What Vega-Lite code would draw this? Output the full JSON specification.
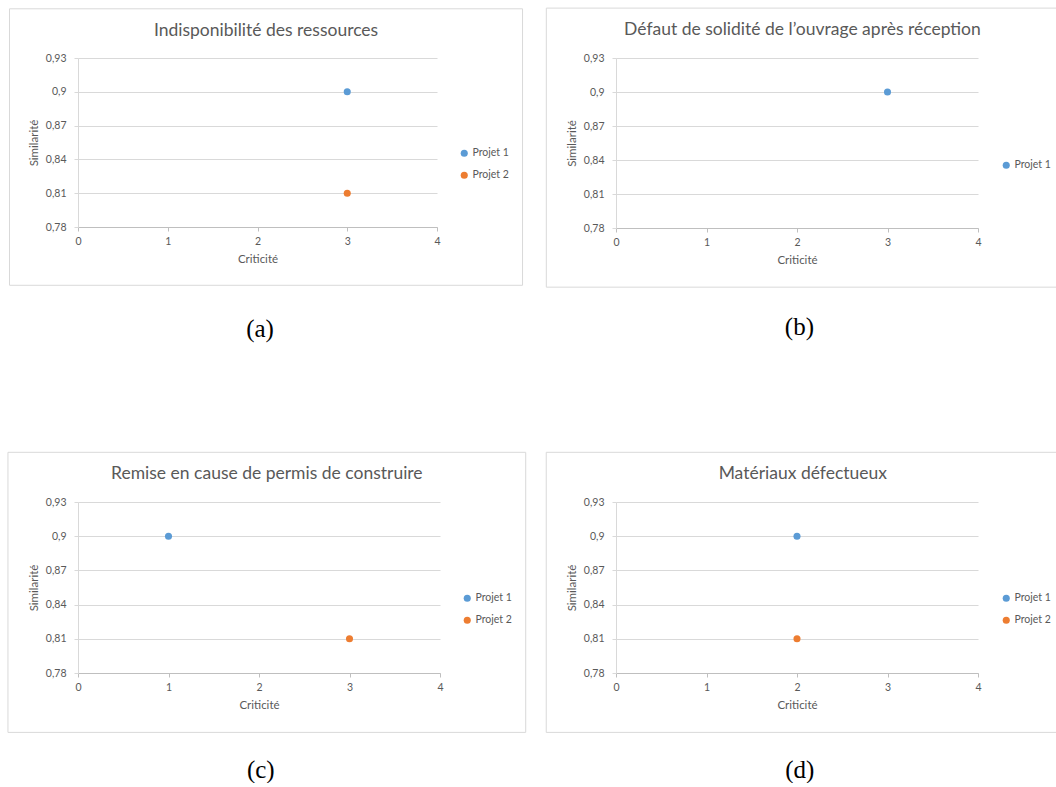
{
  "$schema": "https://vega.github.io/schema/vega-lite/v6.json",
  "background": "white",
  "padding": {"left": 7, "top": 7, "right": 0, "bottom": 0},
  "config": {
    "font": "Lato",
    "view": {"stroke": null},
    "axis": {
      "labelFont": "Lato", "labelFontSize": 10.5, "labelColor": "#595959",
      "titleFont": "Lato", "titleFontSize": 11.5, "titleFontWeight": "normal", "titleColor": "#595959",
      "domainColor": "#d9d9d9", "tickColor": "#d9d9d9", "gridColor": "#d9d9d9", "tickSize": 4,
      "labelOverlap": false, "tickCount": 10
    },
    "axisX": {"grid": false, "labelPadding": 5, "titlePadding": 7, "domainColor": "#bfbfbf", "tickColor": "#bfbfbf", "labelFlush": false},
    "axisY": {"grid": true, "labelPadding": 8, "titlePadding": 6, "labelFlush": false},
    "legend": {
      "labelFont": "Lato", "labelFontSize": 10.5, "labelColor": "#595959",
      "symbolType": "circle", "symbolSize": 50, "padding": 0, "rowPadding": 11,
      "symbolOffset": 0, "labelOffset": 3, "symbolStrokeWidth": 0
    }
  },
  "resolve": {"scale": {"color": "independent"}, "legend": {"color": "independent"}},
  "spacing": 109,
  "vconcat": [
    {
      "spacing": 21,
      "resolve": {"scale": {"color": "independent"}, "legend": {"color": "independent"}},
      "hconcat": [
        {
          "title": {"text": "(a)", "orient": "bottom", "anchor": "middle", "frame": "bounds", "offset": 31, "font": "Liberation Serif", "fontSize": 25, "fontWeight": "normal", "color": "#000000", "dx": -6},
          "resolve": {"scale": {"color": "independent"}, "legend": {"color": "independent"}},
          "vconcat": [
            {
              "width": 359, "height": 169,
              "title": {"text": "Indisponibilité des ressources", "orient": "top", "anchor": "middle", "frame": "bounds", "offset": -31, "fontSize": 17.5, "fontWeight": "normal", "color": "#595959", "font": "Lato"},
              "layer": [
                {
                  "data": {"values": [{}]},
                  "mark": {"type": "rect", "stroke": "#d9d9d9", "strokeWidth": 1, "fill": "white", "fillOpacity": 0},
                  "encoding": {
                    "x": {"datum": -0.763, "type": "quantitative", "scale": {"domain": [0, 4], "nice": false, "zero": false}, "title": "Criticité"},
                    "x2": {"datum": 4.953},
                    "y": {"datum": 0.97367, "type": "quantitative", "scale": {"domain": [0.78, 0.93], "nice": false, "zero": false}, "title": "Similarité"},
                    "y2": {"datum": 0.72826}
                  }
                },
                {
                  "data": {"values": [
                    {"projet": "Projet 1", "criticite": 3, "similarite": 0.9},
                    {"projet": "Projet 2", "criticite": 3, "similarite": 0.81}
                  ]},
                  "mark": {"type": "point", "filled": true, "opacity": 1, "size": 50},
                  "encoding": {
                    "x": {"field": "criticite", "type": "quantitative", "scale": {"domain": [0, 4], "nice": false, "zero": false}, "title": "Criticité", "axis": {"values": [0, 1, 2, 3, 4], "format": "d"}},
                    "y": {"field": "similarite", "type": "quantitative", "scale": {"domain": [0.78, 0.93], "nice": false, "zero": false}, "title": "Similarité", "axis": {"values": [0.78, 0.81, 0.84, 0.87, 0.9, 0.93], "format": "~g", "labelExpr": "replace(datum.label, '.', ',')"}},
                    "color": {"field": "projet", "type": "nominal", "scale": {"domain": ["Projet 1", "Projet 2"], "range": ["#5B9BD5", "#ED7D31"]}, "legend": {"orient": "none", "legendX": 381, "legendY": 90, "title": null}}
                  }
                }
              ]
            }
          ]
        },
        {
          "title": {"text": "(b)", "orient": "bottom", "anchor": "middle", "frame": "bounds", "offset": 27, "font": "Liberation Serif", "fontSize": 25, "fontWeight": "normal", "color": "#000000", "dx": -3},
          "resolve": {"scale": {"color": "independent"}, "legend": {"color": "independent"}},
          "vconcat": [
            {
              "width": 362, "height": 170,
              "title": {"text": "Défaut de solidité de l’ouvrage après réception", "orient": "top", "anchor": "middle", "frame": "bounds", "offset": -31, "fontSize": 17.5, "fontWeight": "normal", "color": "#595959", "font": "Lato"},
              "layer": [
                {
                  "data": {"values": [{}]},
                  "mark": {"type": "rect", "stroke": "#d9d9d9", "strokeWidth": 1, "fill": "white", "fillOpacity": 0},
                  "encoding": {
                    "x": {"datum": -0.770, "type": "quantitative", "scale": {"domain": [0, 4], "nice": false, "zero": false}, "title": "Criticité"},
                    "x2": {"datum": 4.89},
                    "y": {"datum": 0.97401, "type": "quantitative", "scale": {"domain": [0.78, 0.93], "nice": false, "zero": false}, "title": "Similarité"},
                    "y2": {"datum": 0.7278}
                  }
                },
                {
                  "data": {"values": [
                    {"projet": "Projet 1", "criticite": 3, "similarite": 0.9}
                  ]},
                  "mark": {"type": "point", "filled": true, "opacity": 1, "size": 50},
                  "encoding": {
                    "x": {"field": "criticite", "type": "quantitative", "scale": {"domain": [0, 4], "nice": false, "zero": false}, "title": "Criticité", "axis": {"values": [0, 1, 2, 3, 4], "format": "d"}},
                    "y": {"field": "similarite", "type": "quantitative", "scale": {"domain": [0.78, 0.93], "nice": false, "zero": false}, "title": "Similarité", "axis": {"values": [0.78, 0.81, 0.84, 0.87, 0.9, 0.93], "format": "~g", "labelExpr": "replace(datum.label, '.', ',')"}},
                    "color": {"field": "projet", "type": "nominal", "scale": {"domain": ["Projet 1"], "range": ["#5B9BD5"]}, "legend": {"orient": "none", "legendX": 385, "legendY": 102, "title": null}}
                  }
                }
              ]
            }
          ]
        }
      ]
    },
    {
      "spacing": 18,
      "resolve": {"scale": {"color": "independent"}, "legend": {"color": "independent"}},
      "hconcat": [
        {
          "title": {"text": "(c)", "orient": "bottom", "anchor": "middle", "frame": "bounds", "offset": 25, "font": "Liberation Serif", "fontSize": 25, "fontWeight": "normal", "color": "#000000", "dx": -6},
          "resolve": {"scale": {"color": "independent"}, "legend": {"color": "independent"}},
          "vconcat": [
            {
              "width": 362, "height": 171,
              "title": {"text": "Remise en cause de permis de construire", "orient": "top", "anchor": "middle", "frame": "bounds", "offset": -31, "fontSize": 17.5, "fontWeight": "normal", "color": "#595959", "font": "Lato"},
              "layer": [
                {
                  "data": {"values": [{}]},
                  "mark": {"type": "rect", "stroke": "#d9d9d9", "strokeWidth": 1, "fill": "white", "fillOpacity": 0},
                  "encoding": {
                    "x": {"datum": -0.774, "type": "quantitative", "scale": {"domain": [0, 4], "nice": false, "zero": false}, "title": "Criticité"},
                    "x2": {"datum": 4.947},
                    "y": {"datum": 0.97359, "type": "quantitative", "scale": {"domain": [0.78, 0.93], "nice": false, "zero": false}, "title": "Similarité"},
                    "y2": {"datum": 0.72789}
                  }
                },
                {
                  "data": {"values": [
                    {"projet": "Projet 1", "criticite": 1, "similarite": 0.9},
                    {"projet": "Projet 2", "criticite": 3, "similarite": 0.81}
                  ]},
                  "mark": {"type": "point", "filled": true, "opacity": 1, "size": 50},
                  "encoding": {
                    "x": {"field": "criticite", "type": "quantitative", "scale": {"domain": [0, 4], "nice": false, "zero": false}, "title": "Criticité", "axis": {"values": [0, 1, 2, 3, 4], "format": "d"}},
                    "y": {"field": "similarite", "type": "quantitative", "scale": {"domain": [0.78, 0.93], "nice": false, "zero": false}, "title": "Similarité", "axis": {"values": [0.78, 0.81, 0.84, 0.87, 0.9, 0.93], "format": "~g", "labelExpr": "replace(datum.label, '.', ',')"}},
                    "color": {"field": "projet", "type": "nominal", "scale": {"domain": ["Projet 1", "Projet 2"], "range": ["#5B9BD5", "#ED7D31"]}, "legend": {"orient": "none", "legendX": 384, "legendY": 91, "title": null}}
                  }
                }
              ]
            }
          ]
        },
        {
          "title": {"text": "(d)", "orient": "bottom", "anchor": "middle", "frame": "bounds", "offset": 25, "font": "Liberation Serif", "fontSize": 25, "fontWeight": "normal", "color": "#000000", "dx": -3},
          "resolve": {"scale": {"color": "independent"}, "legend": {"color": "independent"}},
          "vconcat": [
            {
              "width": 362, "height": 171,
              "title": {"text": "Matériaux défectueux", "orient": "top", "anchor": "middle", "frame": "bounds", "offset": -31, "fontSize": 17.5, "fontWeight": "normal", "color": "#595959", "font": "Lato"},
              "layer": [
                {
                  "data": {"values": [{}]},
                  "mark": {"type": "rect", "stroke": "#d9d9d9", "strokeWidth": 1, "fill": "white", "fillOpacity": 0},
                  "encoding": {
                    "x": {"datum": -0.771, "type": "quantitative", "scale": {"domain": [0, 4], "nice": false, "zero": false}, "title": "Criticité"},
                    "x2": {"datum": 4.9},
                    "y": {"datum": 0.97359, "type": "quantitative", "scale": {"domain": [0.78, 0.93], "nice": false, "zero": false}, "title": "Similarité"},
                    "y2": {"datum": 0.72789}
                  }
                },
                {
                  "data": {"values": [
                    {"projet": "Projet 1", "criticite": 2, "similarite": 0.9},
                    {"projet": "Projet 2", "criticite": 2, "similarite": 0.81}
                  ]},
                  "mark": {"type": "point", "filled": true, "opacity": 1, "size": 50},
                  "encoding": {
                    "x": {"field": "criticite", "type": "quantitative", "scale": {"domain": [0, 4], "nice": false, "zero": false}, "title": "Criticité", "axis": {"values": [0, 1, 2, 3, 4], "format": "d"}},
                    "y": {"field": "similarite", "type": "quantitative", "scale": {"domain": [0.78, 0.93], "nice": false, "zero": false}, "title": "Similarité", "axis": {"values": [0.78, 0.81, 0.84, 0.87, 0.9, 0.93], "format": "~g", "labelExpr": "replace(datum.label, '.', ',')"}},
                    "color": {"field": "projet", "type": "nominal", "scale": {"domain": ["Projet 1", "Projet 2"], "range": ["#5B9BD5", "#ED7D31"]}, "legend": {"orient": "none", "legendX": 385, "legendY": 91, "title": null}}
                  }
                }
              ]
            }
          ]
        }
      ]
    }
  ]
}
